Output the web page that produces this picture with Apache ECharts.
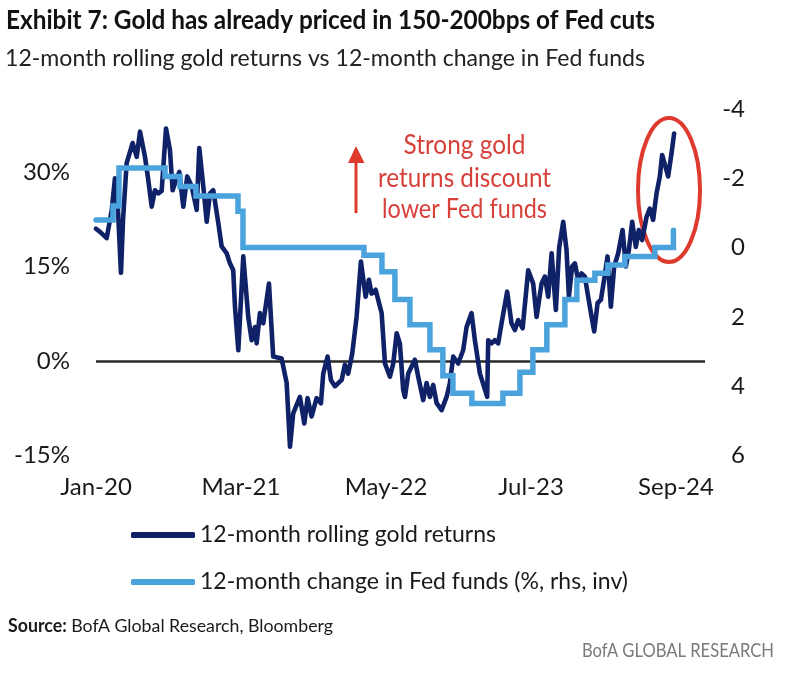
<!DOCTYPE html>
<html><head><meta charset="utf-8">
<script src="https://cdn.jsdelivr.net/npm/echarts@6/dist/echarts.min.js"></script>
<style>html,body{margin:0;padding:0;background:#fff}#c{width:800px;height:675px}</style>
</head><body><div id="c"></div>
<script>
// ---- data ----
const xTickLabels = ['Jan-20', 'Mar-21', 'May-22', 'Jul-23', 'Sep-24']; // every 14 months from Jan-20
const seriesNames = ['12-month rolling gold returns', '12-month change in Fed funds (%, rhs, inv)'];
// months elapsed since Jan 2020
const goldMonth = [0,0.39,1.03,1.35,1.52,1.83,2.12,2.41,2.61,2.96,3.54,3.93,4.25,4.73,5.05,5.38,5.69,6.01,6.34,6.76,7.14,7.40,7.72,8.04,8.43,8.81,9.24,9.72,9.97,10.36,10.69,11.00,11.32,11.81,12.13,12.62,12.93,13.25,13.42,13.74,14.22,14.70,15.03,15.35,15.51,15.83,16.15,16.70,17.11,17.92,18.41,18.73,19.04,19.69,20.11,20.43,20.82,21.30,21.72,21.94,22.36,22.68,23.07,23.72,24.03,24.35,24.74,25.16,25.58,26.03,26.35,26.61,27.00,27.58,27.90,28.38,28.70,29.03,29.34,29.66,29.83,30.15,30.79,31.11,31.59,31.92,32.24,32.56,32.89,33.37,33.85,34.17,34.49,34.97,35.45,35.78,36.26,36.58,37.07,37.77,37.87,38.19,38.51,38.83,39.16,39.70,40.12,40.44,40.76,41.19,41.73,42.21,42.54,43.02,43.34,43.66,43.99,44.40,44.72,45.11,45.43,45.66,45.97,46.24,46.55,46.88,47.20,47.52,47.85,48.10,48.43,48.75,49.06,49.39,49.71,50.03,50.42,50.84,51.16,51.45,51.77,52.12,52.41,52.73,53.16,53.47,53.79,54.12,54.44,54.66,54.99,55.24,55.57,55.82];
const goldReturn = [21,20.5,19.5,22.4,24,29,24,14,22.4,31.4,34.6,32.4,36.4,32.4,28.7,24.5,27.1,26.6,27,36.9,33.5,27.1,28.7,30,24.5,29.3,27.7,24,33.8,27.7,22.1,26.6,27.1,21.9,18.2,17.1,15.5,14.4,8.6,1.7,16.6,7,3.3,5.4,2.8,7.6,6,12.3,0.7,0.4,-3.5,-13.6,-8.3,-5.7,-9.9,-5.9,-8.8,-5.9,-6.7,-2,0.7,-3,-4,-3,-0.6,-2,1.2,7,15.8,10.2,12.9,10.7,11.3,7.6,-0.4,-2.5,-0.4,4.4,2.8,-4.6,-5.7,-2,0.2,-2.5,-6.2,-3.5,-5.7,-3.8,-6.7,-7.8,-5.7,-3.5,0.7,-0.4,1.7,5.4,7.6,3.3,-2,-5.7,3.3,2.8,3.3,2.8,6,11,6,4.9,6.5,5.2,14.4,12.3,7,12.3,13.4,10.2,17.1,8.1,18,22.1,17.6,10.2,15,15.5,12.9,13.9,13.4,10.2,7,4.7,9.2,9.7,12.9,16.6,8.6,15,17.1,20.8,15,17.6,22.1,18.1,20.8,19.2,22.9,24.2,22.4,26.6,29.3,32.7,30.8,29.3,33,36.1];
// Fed funds 12m change: month at which each level starts
const fedMonth = [0,1.64,2.22,6.66,8.11,9.65,13.71,14.19,25.87,27.61,28.86,30.31,32.24,33.49,34.46,36.29,39.29,40.93,42.18,43.53,45.27,46.43,48.17,49.42,51.06,53.96,55.75];
const fedChange = [-0.8,-1.2,-2.3,-2.05,-1.76,-1.49,-1.05,0,0.22,0.7,1.5,2.23,2.95,3.7,4.2,4.5,4.2,3.6,2.95,2.23,1.5,0.94,0.74,0.5,0.26,0,-0.5];
const leftTicks = {min: -15, max: 40, interval: 15};
const rightTicks = {min: -4, max: 6, interval: 2};
const xRange = {min: 0, max: 58.8, interval: 14};

// ---- styling helpers ----
const NAVY = '#0f2167', LIGHT = '#4ba3dd', RED = '#de3a2e', TXT = '#1a1a1a';
const FONT = 'Lato';
const ctx = document.createElement('canvas').getContext('2d');
function measure(text, font) { ctx.font = font; return ctx.measureText(text).width; }
function fitText(text, font, target, x, y, align, fill) {
  const s = target / measure(text, font);
  return {type: 'text', x: x, y: y, scaleX: s, silent: true,
    style: {text: text, font: font, fill: fill, textAlign: align, align: align,
            textVerticalAlign: 'middle', verticalAlign: 'middle'}};
}

const chart = echarts.init(document.getElementById('c'), null, {renderer: 'canvas'});

const srcBoldFont = 'bold 18px ' + FONT, srcFont = '18px ' + FONT;
const srcW = measure('Source:', srcBoldFont) + measure(' BofA Global Research, Bloomberg', srcFont);

const graphics = [
  fitText('Exhibit 7: Gold has already priced in 150-200bps of Fed cuts', 'bold 26px ' + FONT, 649, 6, 21, 'left', '#111'),
  fitText('12-month rolling gold returns vs 12-month change in Fed funds', '24px ' + FONT, 640, 5, 58, 'left', '#222'),
  fitText('Strong gold', '26px ' + FONT, 122, 464.5, 146, 'center', '#d8403a'),
  fitText('returns discount', '26px ' + FONT, 173, 464.5, 179, 'center', '#d8403a'),
  fitText('lower Fed funds', '26px ' + FONT, 165, 464.5, 210, 'center', '#d8403a'),
  {type: 'text', x: 8, y: 626, scaleX: 325 / srcW, silent: true,
    style: {text: '{b|Source:} BofA Global Research, Bloomberg', font: srcFont, fill: TXT,
      textVerticalAlign: 'middle', verticalAlign: 'middle',
      rich: {b: {font: srcBoldFont, fill: TXT, fontWeight: 'bold', fontSize: 18, fontFamily: FONT}}}},
  fitText('BofA GLOBAL RESEARCH', '19px ' + FONT, 192, 774, 651, 'right', '#7a7a7a'),
  // arrow
  {type: 'line', silent: true, shape: {x1: 356, y1: 213, x2: 356, y2: 160}, style: {stroke: RED, lineWidth: 3}},
  {type: 'polygon', silent: true, shape: {points: [[348, 163], [356, 146], [364.5, 163]]}, style: {fill: RED}},
  // highlight ellipse
  {type: 'ellipse', silent: true, shape: {cx: 669, cy: 190, rx: 31, ry: 72}, style: {fill: 'none', stroke: RED, lineWidth: 4}}
];

const option = {
  animation: false,
  backgroundColor: '#fff',
  textStyle: {fontFamily: FONT},
  grid: {left: 96, right: 95, top: 109, bottom: 219.5, containLabel: false},
  xAxis: {
    type: 'value', min: xRange.min, max: xRange.max, interval: xRange.interval,
    axisLine: {show: false}, axisTick: {show: false}, splitLine: {show: false},
    axisLabel: {
      margin: 20, fontSize: 24, fontFamily: FONT, color: TXT, showMaxLabel: false,
      formatter: v => {
        const k = Math.round(v / xRange.interval);
        return Math.abs(v - k * xRange.interval) < 1e-6 && xTickLabels[k] ? xTickLabels[k] : '';
      }
    }
  },
  yAxis: [
    {type: 'value', min: leftTicks.min, max: leftTicks.max, interval: leftTicks.interval,
     axisLine: {show: false}, axisTick: {show: false}, splitLine: {show: false},
     axisLabel: {margin: 26, fontSize: 24, fontFamily: FONT, color: TXT, showMaxLabel: false,
       formatter: v => (v === leftTicks.max ? '' : v + '%')}},
    {type: 'value', position: 'right', inverse: true, min: rightTicks.min, max: rightTicks.max, interval: rightTicks.interval,
     axisLine: {show: false}, axisTick: {show: false}, splitLine: {show: false},
     axisLabel: {margin: 40, align: 'right', fontSize: 24, fontFamily: FONT, color: TXT,
       formatter: v => String(v)}}
  ],
  legend: {
    orient: 'vertical', left: 126, top: 518, itemWidth: 64, itemHeight: 6, itemGap: 23,
    icon: 'roundRect', selectedMode: false,
    textStyle: {fontFamily: FONT, fontSize: 23, color: TXT, lineHeight: 24},
    data: seriesNames
  },
  series: [
    {
      name: seriesNames[0], type: 'line', yAxisIndex: 0, showSymbol: false, symbol: 'none',
      color: NAVY,
      lineStyle: {color: NAVY, width: 4.6, cap: 'round', join: 'round'},
      data: goldMonth.map((m, i) => [m, goldReturn[i]]),
      markLine: {
        silent: true, symbol: ['none', 'none'], z: 1, label: {show: false},
        lineStyle: {color: '#2a2a2a', width: 2.5, type: 'solid'},
        emphasis: {disabled: true},
        data: [{yAxis: 0}]
      },
      z: 2
    },
    {
      name: seriesNames[1], type: 'line', yAxisIndex: 1, showSymbol: false, symbol: 'none',
      step: 'end', color: LIGHT,
      lineStyle: {color: LIGHT, width: 5.5, cap: 'round', join: 'miter'},
      data: fedMonth.map((m, i) => [m, fedChange[i]]),
      z: 3
    }
  ],
  graphic: graphics
};
chart.setOption(option);
</script>
</body></html>
